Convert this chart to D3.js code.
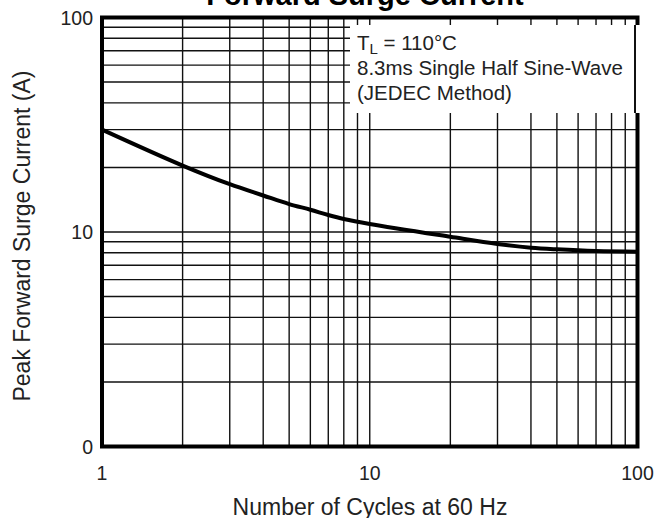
<!DOCTYPE html>
<html>
<head>
<meta charset="utf-8">
<script src="https://cdn.jsdelivr.net/npm/d3@7"></script>
<style>
  body { margin: 0; background: #fff; }
  text { font-family: "Liberation Sans", Arial, sans-serif; }
</style>
</head>
<body>
<div id="chart"></div>
<script>
(function(){

    // curve (cycles, amps)
    var cycles = [1, 2, 3, 4, 5, 6, 7, 8, 10, 20, 30, 40, 50, 70, 100];
    var amps   = [30, 20.4, 16.7, 14.8, 13.5, 12.7, 12.0, 11.5, 10.9, 9.5, 8.8, 8.45, 8.3, 8.15, 8.1];

    var xTickValues = [1, 10, 100];
    var xTickLabels = ["1", "10", "100"];
    var yTickValues = [1, 10, 100];
    var yTickLabels = ["0", "10", "100"];

    var noteLines = ["8.3ms Single Half Sine-Wave", "(JEDEC Method)"];

    var W = 657, H = 518;
    var left = 102, right = 637.5, top = 17.5, bottom = 446.5;

    var svg = d3.select("#chart")
                .append("svg")
                .attr("width", W)
                .attr("height", H);

    var x = d3.scaleLog().domain([1, 100]).range([left, right]);
    var y = d3.scaleLog().domain([1, 100]).range([bottom, top]);

    // grid
    var grid = svg.append("g")
                .attr("stroke", "#111")
                .attr("stroke-width", 1.4);

    x.ticks().filter(function(t){ return t > 1 && t < 100; }).forEach(function(t){
        grid.append("line")
            .attr("x1", x(t)).attr("x2", x(t))
            .attr("y1", top).attr("y2", bottom);
    });

    y.ticks().filter(function(t){ return t > 1 && t < 100; }).forEach(function(t){
        grid.append("line")
            .attr("x1", left).attr("x2", right)
            .attr("y1", y(t)).attr("y2", y(t));
    });

    // note box blanks out the grid
    svg.append("rect")
        .attr("x", 350).attr("y", 25)
        .attr("width", 292).attr("height", 88)
        .attr("fill", "#fff");

    svg.append("line")
        .attr("x1", 635).attr("x2", 635)
        .attr("y1", 25).attr("y2", 113)
        .attr("stroke", "#111")
        .attr("stroke-width", 2);

    // frame
    svg.append("path")
        .attr("d", "M" + left + "," + 25 + "V" + bottom + "H" + right + "V" + 113)
        .attr("fill", "none")
        .attr("stroke", "#000")
        .attr("stroke-width", 4);
    svg.append("path")
        .attr("d", "M" + left + "," + 25 + "V" + top + "H" + right + "V" + 25)
        .attr("fill", "none")
        .attr("stroke", "#000")
        .attr("stroke-width", 4);

    // curve
    var line = d3.line()
                .x(function(d, i){ return x(cycles[i]); })
                .y(function(d){ return y(d); })
                .curve(d3.curveCatmullRom.alpha(0.5));

    svg.append("path")
        .attr("d", line(amps))
        .attr("fill", "none")
        .attr("stroke", "#000")
        .attr("stroke-width", 4);

    // tick labels
    xTickValues.forEach(function(v, i){
        svg.append("text")
            .attr("x", x(v)).attr("y", 480)
            .attr("text-anchor", "middle")
            .attr("font-size", 19.5)
            .attr("fill", "#222")
            .text(xTickLabels[i]);
    });

    yTickValues.forEach(function(v, i){
        svg.append("text")
            .attr("x", 93).attr("y", y(v) + 7)
            .attr("text-anchor", "end")
            .attr("font-size", 19.5)
            .attr("fill", "#222")
            .text(yTickLabels[i]);
    });

    // note
    var t1 = svg.append("text")
            .attr("x", 357).attr("y", 50)
            .attr("font-size", 20.5)
            .attr("fill", "#222");
    t1.append("tspan").text("T");
    t1.append("tspan").attr("font-size", 15).attr("dy", 4).text("L");
    t1.append("tspan").attr("dy", -4).text(" = 110\u00B0C");

    noteLines.forEach(function(s, i){
        svg.append("text")
            .attr("x", 357).attr("y", 75 + i * 25)
            .attr("font-size", 20.5)
            .attr("fill", "#222")
            .text(s);
    });

    // titles
    svg.append("text")
        .attr("x", 365).attr("y", 5)
        .attr("text-anchor", "middle")
        .attr("font-size", 29)
        .attr("font-weight", "bold")
        .attr("fill", "#000")
        .text("Forward Surge Current");

    svg.append("text")
        .attr("x", 370).attr("y", 515)
        .attr("text-anchor", "middle")
        .attr("font-size", 23)
        .attr("fill", "#222")
        .text("Number of Cycles at 60 Hz");

    svg.append("text")
        .attr("transform", "translate(30,236) rotate(-90)")
        .attr("text-anchor", "middle")
        .attr("font-size", 23)
        .attr("fill", "#222")
        .text("Peak Forward Surge Current (A)");

})();
</script>
</body>
</html>
